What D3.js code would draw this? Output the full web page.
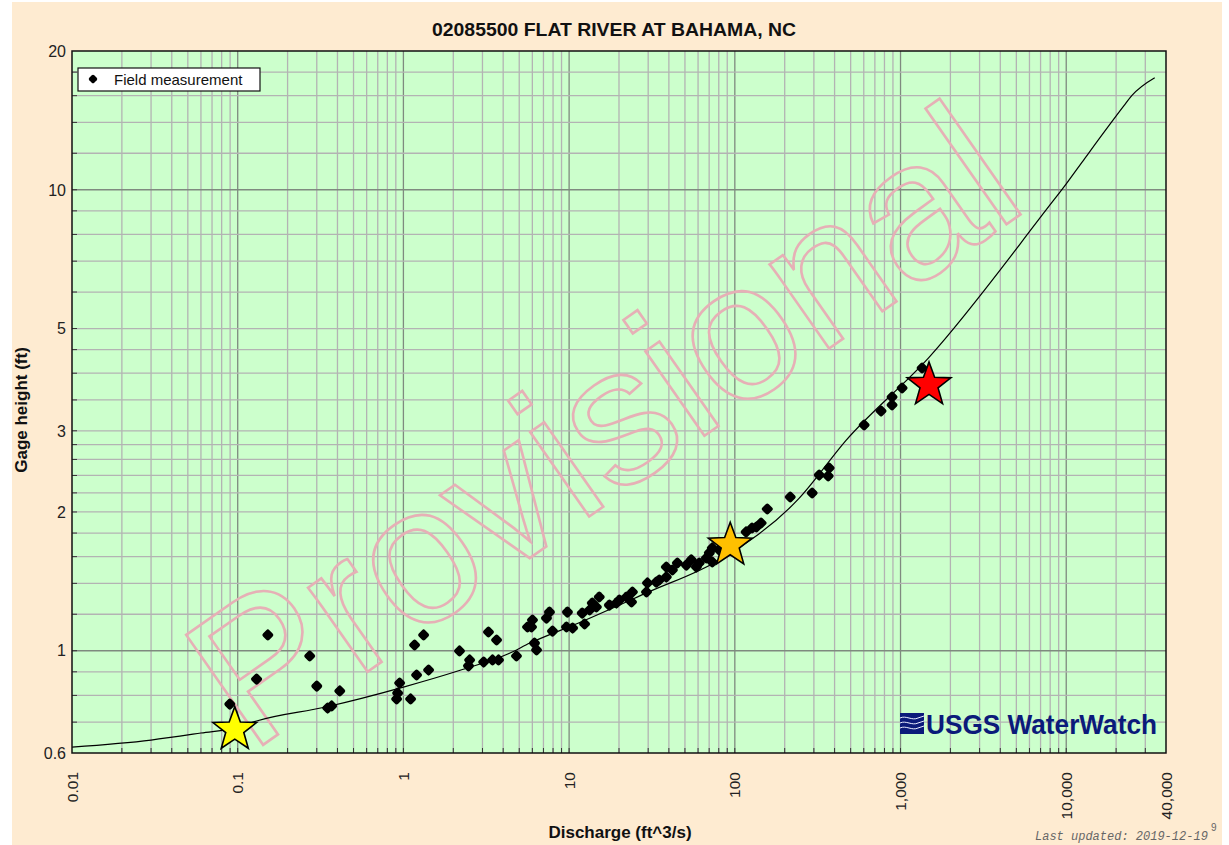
<!DOCTYPE html>
<html>
<head>
<meta charset="utf-8">
<script src="https://cdn.jsdelivr.net/npm/d3@7"></script>
<style>
  body { margin: 0; background: #fff; }
  text { font-family: "Liberation Sans", Arial, sans-serif; }
</style>
</head>
<body>
<svg id="chart"></svg>
<script>
// rating curve (discharge ft^3/s, gage height ft)
const ratingQ = [0.01, 0.03, 0.06, 0.1, 0.13, 0.34, 1.0, 2.2, 4.3, 5.8, 11.5, 30, 80, 244, 469, 1486, 7850, 10000, 12950, 22250, 24850, 34200];
const ratingG = [0.618, 0.64, 0.663, 0.682, 0.704, 0.755, 0.834, 0.907, 0.985, 1.039, 1.15, 1.34, 1.572, 2.14, 2.86, 4.33, 9.2, 10.3, 11.7, 15.2, 16.0, 17.5];

// field measurements
const fieldQ = [0.0896, 0.13, 0.152, 0.272, 0.3, 0.413, 0.349, 0.369, 1.168, 1.324, 1.201, 1.419, 0.949, 0.923, 0.91, 1.105,
  2.18, 2.51, 2.47, 3.05, 3.45, 3.75, 3.26, 3.65, 4.81, 5.61, 6.18, 6.36, 6.01, 5.93, 7.61, 7.3, 9.77, 7.94, 9.64, 10.5,
  12.4, 12.0, 13.3, 13.8, 15.2, 14.6, 17.5, 19.3, 20.1, 22.2, 24.1, 23.8, 29.3, 29.7, 33.6, 35.0, 38.6, 38.6, 42.0, 45.0,
  51.0, 54.6, 58.6, 61.0, 67.3, 70.2, 73.1, 73.1, 80.6, 117, 127, 135, 144, 157, 216, 293, 323, 366, 371, 603, 763, 889,
  889, 1022, 1349];
const fieldG = [0.766, 0.868, 1.082, 0.974, 0.838, 0.818, 0.751, 0.759, 1.029, 1.082, 0.886, 0.908, 0.851, 0.809, 0.786, 0.786,
  0.999, 0.955, 0.927, 0.945, 0.955, 0.955, 1.098, 1.055, 0.974, 1.126, 1.039, 1.004, 1.166, 1.126, 1.213, 1.177, 1.213, 1.103, 1.126, 1.12,
  1.143, 1.207, 1.226, 1.269, 1.308, 1.244, 1.256, 1.269, 1.288, 1.308, 1.341, 1.276, 1.341, 1.403, 1.409, 1.424, 1.445, 1.519, 1.497, 1.55,
  1.534, 1.574, 1.519, 1.55, 1.589, 1.63, 1.671, 1.558, 1.654, 1.81, 1.846, 1.855, 1.893, 2.03, 2.155, 2.199, 2.405, 2.394, 2.491, 3.088, 3.311, 3.412,
  3.551, 3.715, 4.105];

// highlighted stars
const starQ = [0.096, 93.8, 1486];
const starG = [0.681, 1.711, 3.81];
const starColors = ["#ffff00", "#ffc000", "#ff0000"];

const xTickValues = [0.01, 0.1, 1, 10, 100, 1000, 10000, 40000];
const xTickLabels = ["0.01", "0.1", "1", "10", "100", "1,000", "10,000", "40,000"];
const yTickValues = [0.6, 1, 2, 3, 5, 10, 20];
const yTickLabels = ["0.6", "1", "2", "3", "5", "10", "20"];
const yGridValues = [0.7, 0.8, 0.9, 1, 1.2, 1.4, 1.6, 1.8, 2, 2.2, 2.4, 2.6, 2.8, 3, 3.5, 4, 4.5, 5, 6, 7, 8, 9, 10, 12, 14, 16, 18];
const yMajor = [1, 10];

const width = 1229;
const height = 845;
const plotLeft = 72, plotRight = 1166, plotTop = 51, plotBottom = 753;

const svg = d3.select("#chart").attr("width", width).attr("height", height);

svg.append("rect")
  .attr("x", 12).attr("y", 2)
  .attr("width", 1210).attr("height", 843)
  .attr("fill", "#feebd1");

const x = d3.scaleLog().domain([0.01, 40000]).range([plotLeft, plotRight]);
const y = d3.scaleLog().domain([0.6, 20]).range([plotBottom, plotTop]);

svg.append("rect")
  .attr("x", plotLeft).attr("y", plotTop)
  .attr("width", plotRight - plotLeft).attr("height", plotBottom - plotTop)
  .attr("fill", "#ccffcc");

// grid
const xGrid = [];
for (let e = -2; e <= 4; e++) {
  for (let m = 1; m <= 9; m++) {
    const v = m * Math.pow(10, e);
    if (v > 0.01 && v < 40000) xGrid.push({ v, major: m === 1 });
  }
}

const grid = svg.append("g");
grid.selectAll(".xg")
  .data(xGrid)
  .join("line")
  .attr("x1", (d) => x(d.v)).attr("x2", (d) => x(d.v))
  .attr("y1", plotTop).attr("y2", plotBottom)
  .attr("stroke", (d) => (d.major ? "#7f8a7f" : "#b3b3b3"))
  .attr("stroke-width", 1.3);

grid.selectAll(".yg")
  .data(yGridValues)
  .join("line")
  .attr("x1", plotLeft).attr("x2", plotRight)
  .attr("y1", (d) => y(d)).attr("y2", (d) => y(d))
  .attr("stroke", (d) => (yMajor.includes(d) ? "#7f8a7f" : "#b3b3b3"))
  .attr("stroke-width", 1.3);

// inner ticks
grid.selectAll(".xt")
  .data(xGrid)
  .join("line")
  .attr("x1", (d) => x(d.v)).attr("x2", (d) => x(d.v))
  .attr("y1", plotBottom).attr("y2", plotBottom - 5)
  .attr("stroke", "#333");
grid.selectAll(".yt")
  .data(yGridValues)
  .join("line")
  .attr("x1", plotLeft).attr("x2", plotLeft + 5)
  .attr("y1", (d) => y(d)).attr("y2", (d) => y(d))
  .attr("stroke", "#333");

// Provisional watermark
svg.append("text")
  .attr("transform", "translate(250,754) rotate(-35)")
  .attr("font-size", 195)
  .attr("fill", "none")
  .attr("stroke", "#e6b0b6")
  .attr("stroke-width", 2.6)
  .text("Provisional");

// rating curve
const line = d3.line()
  .x((d) => x(d[0]))
  .y((d) => y(d[1]))
  .curve(d3.curveMonotoneX);

svg.append("path")
  .datum(ratingQ.map((q, i) => [q, ratingG[i]]))
  .attr("d", line)
  .attr("fill", "none")
  .attr("stroke", "#000")
  .attr("stroke-width", 1.2);

// field measurements
svg.append("g")
  .selectAll("rect")
  .data(fieldQ.map((q, i) => [q, fieldG[i]]))
  .join("rect")
  .attr("x", -4.5).attr("y", -4.5)
  .attr("width", 9).attr("height", 9)
  .attr("rx", 2.2)
  .attr("fill", "#000")
  .attr("transform", (d) => `translate(${x(d[0])},${y(d[1])}) rotate(45)`);

// stars
function starPath(R, r) {
  const pts = [];
  for (let i = 0; i < 10; i++) {
    const a = -Math.PI / 2 + (i * Math.PI) / 5;
    const rad = i % 2 === 0 ? R : r;
    pts.push([rad * Math.cos(a), rad * Math.sin(a)]);
  }
  return "M" + pts.map((p) => p.join(",")).join("L") + "Z";
}

svg.append("g")
  .selectAll("path")
  .data(starQ.map((q, i) => ({ q, g: starG[i], c: starColors[i] })))
  .join("path")
  .attr("d", starPath(23, 9.5))
  .attr("transform", (d) => `translate(${x(d.q)},${y(d.g) + 2})`)
  .attr("fill", (d) => d.c)
  .attr("stroke", "#000")
  .attr("stroke-width", 1.6)
  .attr("stroke-linejoin", "miter");

// frame
svg.append("rect")
  .attr("x", plotLeft).attr("y", plotTop)
  .attr("width", plotRight - plotLeft).attr("height", plotBottom - plotTop)
  .attr("fill", "none")
  .attr("stroke", "#111")
  .attr("stroke-width", 1.5);

// axis labels
svg.append("g")
  .selectAll("text")
  .data(xTickValues)
  .join("text")
  .attr("transform", (d) => `translate(${x(d) + 5.5},772) rotate(-90)`)
  .attr("text-anchor", "end")
  .attr("font-size", 15.5)
  .attr("fill", "#222")
  .text((d, i) => xTickLabels[i]);

svg.append("g")
  .selectAll("text")
  .data(yTickValues)
  .join("text")
  .attr("x", 66)
  .attr("y", (d) => y(d))
  .attr("dy", "0.36em")
  .attr("text-anchor", "end")
  .attr("font-size", 16)
  .attr("fill", "#222")
  .text((d, i) => yTickLabels[i]);

svg.append("text")
  .attr("x", 614).attr("y", 36)
  .attr("text-anchor", "middle")
  .attr("font-size", 19)
  .attr("font-weight", "bold")
  .style("font-family", '"Liberation Sans Narrow", "Arial Narrow", "Liberation Sans", Arial, sans-serif')
  .attr("textLength", 364)
  .attr("lengthAdjust", "spacingAndGlyphs")
  .attr("fill", "#111")
  .text("02085500 FLAT RIVER AT BAHAMA, NC");

svg.append("text")
  .attr("x", 620).attr("y", 838)
  .attr("text-anchor", "middle")
  .attr("font-size", 17)
  .attr("font-weight", "bold")
  .attr("fill", "#111")
  .text("Discharge (ft^3/s)");

svg.append("text")
  .attr("transform", "translate(27,410) rotate(-90)")
  .attr("text-anchor", "middle")
  .attr("font-size", 17)
  .attr("font-weight", "bold")
  .attr("fill", "#111")
  .text("Gage height (ft)");

// legend
const legend = svg.append("g");
legend.append("rect")
  .attr("x", 78).attr("y", 68)
  .attr("width", 182).attr("height", 23)
  .attr("fill", "#fff")
  .attr("stroke", "#111")
  .attr("stroke-width", 1.2);
legend.append("rect")
  .attr("x", -3.5).attr("y", -3.5)
  .attr("width", 7).attr("height", 7)
  .attr("rx", 1.8)
  .attr("fill", "#000")
  .attr("transform", "translate(93,79) rotate(45)");
legend.append("text")
  .attr("x", 114).attr("y", 84.5)
  .attr("font-size", 15)
  .attr("fill", "#111")
  .text("Field measurement");

// USGS WaterWatch logo
const logo = svg.append("g");
logo.append("rect")
  .attr("x", 900).attr("y", 713)
  .attr("width", 24).attr("height", 21)
  .attr("fill", "#0b1a7a");
const waves = [718, 723, 728];
logo.selectAll("path")
  .data(waves)
  .join("path")
  .attr("d", (d) => `M900,${d} C906,${d - 3} 912,${d + 3} 918,${d} L924,${d - 2}`)
  .attr("fill", "none")
  .attr("stroke", "#e8ecff")
  .attr("stroke-width", 1);
logo.append("text")
  .attr("x", 926).attr("y", 734)
  .attr("font-size", 28)
  .attr("font-weight", "bold")
  .attr("fill", "#0b1a7a")
  .attr("textLength", 231)
  .attr("lengthAdjust", "spacingAndGlyphs")
  .text("USGS WaterWatch");

svg.append("text")
  .attr("x", 1035).attr("y", 840)
  .attr("font-size", 12)
  .attr("font-style", "italic")
  .style("font-family", '"Liberation Mono", "DejaVu Sans Mono", monospace')
  .attr("fill", "#666")
  .text("Last updated: 2019-12-19");
svg.append("text")
  .attr("x", 1211).attr("y", 831)
  .attr("font-size", 10)
  .attr("fill", "#666")
  .text("9");
</script>
</body>
</html>
